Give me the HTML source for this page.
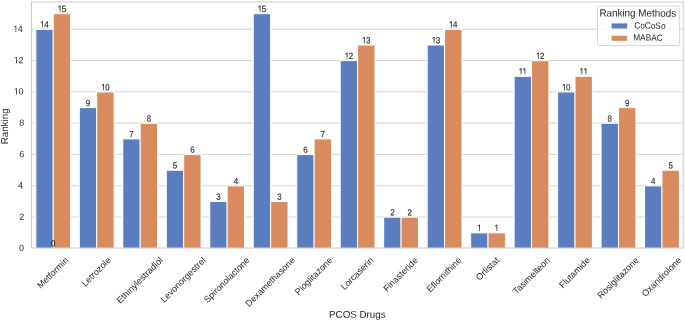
<!DOCTYPE html>
<html><head><meta charset="utf-8"><style>
html,body{margin:0;padding:0;background:#fff;width:685px;height:321px;overflow:hidden}
svg{display:block;will-change:transform}
text{font-family:"Liberation Sans",sans-serif;fill:#262626;text-rendering:geometricPrecision}
</style></head><body>
<svg width="685" height="321" viewBox="0 0 685 321">
<rect width="685" height="321" fill="#fff"/>
<line x1="31.5" x2="683.2" y1="217.04" y2="217.04" stroke="#cccccc" stroke-width="0.8"/>
<line x1="31.5" x2="683.2" y1="185.74" y2="185.74" stroke="#cccccc" stroke-width="0.8"/>
<line x1="31.5" x2="683.2" y1="154.44" y2="154.44" stroke="#cccccc" stroke-width="0.8"/>
<line x1="31.5" x2="683.2" y1="123.13" y2="123.13" stroke="#cccccc" stroke-width="0.8"/>
<line x1="31.5" x2="683.2" y1="91.82" y2="91.82" stroke="#cccccc" stroke-width="0.8"/>
<line x1="31.5" x2="683.2" y1="60.52" y2="60.52" stroke="#cccccc" stroke-width="0.8"/>
<line x1="31.5" x2="683.2" y1="29.22" y2="29.22" stroke="#cccccc" stroke-width="0.8"/>
<rect x="35.85" y="29.37" width="17.39" height="218.98" fill="#597DBF" stroke="#fff" stroke-width="1.0"/>
<rect x="53.24" y="13.71" width="17.39" height="234.64" fill="#D98B5F" stroke="#fff" stroke-width="1.0"/>
<rect x="79.33" y="107.63" width="17.39" height="140.72" fill="#597DBF" stroke="#fff" stroke-width="1.0"/>
<rect x="96.72" y="91.97" width="17.39" height="156.38" fill="#D98B5F" stroke="#fff" stroke-width="1.0"/>
<rect x="122.81" y="138.93" width="17.39" height="109.42" fill="#597DBF" stroke="#fff" stroke-width="1.0"/>
<rect x="140.20" y="123.28" width="17.39" height="125.07" fill="#D98B5F" stroke="#fff" stroke-width="1.0"/>
<rect x="166.29" y="170.24" width="17.39" height="78.11" fill="#597DBF" stroke="#fff" stroke-width="1.0"/>
<rect x="183.68" y="154.59" width="17.39" height="93.76" fill="#D98B5F" stroke="#fff" stroke-width="1.0"/>
<rect x="209.77" y="201.54" width="17.39" height="46.81" fill="#597DBF" stroke="#fff" stroke-width="1.0"/>
<rect x="227.16" y="185.89" width="17.39" height="62.46" fill="#D98B5F" stroke="#fff" stroke-width="1.0"/>
<rect x="253.25" y="13.71" width="17.39" height="234.64" fill="#597DBF" stroke="#fff" stroke-width="1.0"/>
<rect x="270.64" y="201.54" width="17.39" height="46.81" fill="#D98B5F" stroke="#fff" stroke-width="1.0"/>
<rect x="296.73" y="154.59" width="17.39" height="93.76" fill="#597DBF" stroke="#fff" stroke-width="1.0"/>
<rect x="314.12" y="138.93" width="17.39" height="109.42" fill="#D98B5F" stroke="#fff" stroke-width="1.0"/>
<rect x="340.21" y="60.67" width="17.39" height="187.68" fill="#597DBF" stroke="#fff" stroke-width="1.0"/>
<rect x="357.60" y="45.02" width="17.39" height="203.33" fill="#D98B5F" stroke="#fff" stroke-width="1.0"/>
<rect x="383.69" y="217.19" width="17.39" height="31.16" fill="#597DBF" stroke="#fff" stroke-width="1.0"/>
<rect x="401.08" y="217.19" width="17.39" height="31.16" fill="#D98B5F" stroke="#fff" stroke-width="1.0"/>
<rect x="427.17" y="45.02" width="17.39" height="203.33" fill="#597DBF" stroke="#fff" stroke-width="1.0"/>
<rect x="444.56" y="29.37" width="17.39" height="218.98" fill="#D98B5F" stroke="#fff" stroke-width="1.0"/>
<rect x="470.65" y="232.85" width="17.39" height="15.50" fill="#597DBF" stroke="#fff" stroke-width="1.0"/>
<rect x="488.04" y="232.85" width="17.39" height="15.50" fill="#D98B5F" stroke="#fff" stroke-width="1.0"/>
<rect x="514.13" y="76.32" width="17.39" height="172.03" fill="#597DBF" stroke="#fff" stroke-width="1.0"/>
<rect x="531.52" y="60.67" width="17.39" height="187.68" fill="#D98B5F" stroke="#fff" stroke-width="1.0"/>
<rect x="557.61" y="91.97" width="17.39" height="156.38" fill="#597DBF" stroke="#fff" stroke-width="1.0"/>
<rect x="575.00" y="76.32" width="17.39" height="172.03" fill="#D98B5F" stroke="#fff" stroke-width="1.0"/>
<rect x="601.09" y="123.28" width="17.39" height="125.07" fill="#597DBF" stroke="#fff" stroke-width="1.0"/>
<rect x="618.48" y="107.63" width="17.39" height="140.72" fill="#D98B5F" stroke="#fff" stroke-width="1.0"/>
<rect x="644.57" y="185.89" width="17.39" height="62.46" fill="#597DBF" stroke="#fff" stroke-width="1.0"/>
<rect x="661.96" y="170.24" width="17.39" height="78.11" fill="#D98B5F" stroke="#fff" stroke-width="1.0"/>
<rect x="31.5" y="2.0" width="651.70" height="246.00" fill="none" stroke="#cccccc" stroke-width="1.0"/>
<g transform="translate(44.54,27.62) rotate(0.1) scale(0.88,1)"><text x="-4.76 -0.25" y="0" font-size="9.0" style="stroke:#262626;stroke-width:0.15px">14</text><rect x="-4.97" y="-1.60" width="2.43" height="2.20" fill="#fff"/><rect x="-1.65" y="-1.60" width="1.52" height="2.20" fill="#fff"/></g>
<g transform="translate(61.94,11.96) rotate(0.1) scale(0.88,1)"><text x="-4.76 -0.25" y="0" font-size="9.0" style="stroke:#262626;stroke-width:0.15px">15</text><rect x="-4.97" y="-1.60" width="2.43" height="2.20" fill="#fff"/><rect x="-1.65" y="-1.60" width="1.68" height="2.20" fill="#fff"/></g>
<g transform="translate(88.02,105.88) rotate(0.1) scale(0.88,1)"><text x="-2.50" y="0" font-size="9.0" style="stroke:#262626;stroke-width:0.15px">9</text></g>
<g transform="translate(105.42,90.22) rotate(0.1) scale(0.88,1)"><text x="-4.76 -0.25" y="0" font-size="9.0" style="stroke:#262626;stroke-width:0.15px">10</text><rect x="-4.97" y="-1.60" width="2.43" height="2.20" fill="#fff"/><rect x="-1.65" y="-1.60" width="1.67" height="2.20" fill="#fff"/></g>
<g transform="translate(131.50,137.18) rotate(0.1) scale(0.88,1)"><text x="-2.50" y="0" font-size="9.0" style="stroke:#262626;stroke-width:0.15px">7</text></g>
<g transform="translate(148.90,121.53) rotate(0.1) scale(0.88,1)"><text x="-2.50" y="0" font-size="9.0" style="stroke:#262626;stroke-width:0.15px">8</text></g>
<g transform="translate(174.98,168.49) rotate(0.1) scale(0.88,1)"><text x="-2.50" y="0" font-size="9.0" style="stroke:#262626;stroke-width:0.15px">5</text></g>
<g transform="translate(192.38,152.84) rotate(0.1) scale(0.88,1)"><text x="-2.50" y="0" font-size="9.0" style="stroke:#262626;stroke-width:0.15px">6</text></g>
<g transform="translate(218.46,199.79) rotate(0.1) scale(0.88,1)"><text x="-2.50" y="0" font-size="9.0" style="stroke:#262626;stroke-width:0.15px">3</text></g>
<g transform="translate(235.86,184.14) rotate(0.1) scale(0.88,1)"><text x="-2.50" y="0" font-size="9.0" style="stroke:#262626;stroke-width:0.15px">4</text></g>
<g transform="translate(261.94,11.96) rotate(0.1) scale(0.88,1)"><text x="-4.76 -0.25" y="0" font-size="9.0" style="stroke:#262626;stroke-width:0.15px">15</text><rect x="-4.97" y="-1.60" width="2.43" height="2.20" fill="#fff"/><rect x="-1.65" y="-1.60" width="1.68" height="2.20" fill="#fff"/></g>
<g transform="translate(279.34,199.79) rotate(0.1) scale(0.88,1)"><text x="-2.50" y="0" font-size="9.0" style="stroke:#262626;stroke-width:0.15px">3</text></g>
<g transform="translate(305.42,152.84) rotate(0.1) scale(0.88,1)"><text x="-2.50" y="0" font-size="9.0" style="stroke:#262626;stroke-width:0.15px">6</text></g>
<g transform="translate(322.82,137.18) rotate(0.1) scale(0.88,1)"><text x="-2.50" y="0" font-size="9.0" style="stroke:#262626;stroke-width:0.15px">7</text></g>
<g transform="translate(348.90,58.92) rotate(0.1) scale(0.88,1)"><text x="-4.76 -0.25" y="0" font-size="9.0" style="stroke:#262626;stroke-width:0.15px">12</text><rect x="-4.97" y="-1.60" width="2.43" height="2.20" fill="#fff"/><rect x="-1.65" y="-1.60" width="1.77" height="2.20" fill="#fff"/></g>
<g transform="translate(366.30,43.27) rotate(0.1) scale(0.88,1)"><text x="-4.76 -0.25" y="0" font-size="9.0" style="stroke:#262626;stroke-width:0.15px">13</text><rect x="-4.97" y="-1.60" width="2.43" height="2.20" fill="#fff"/><rect x="-1.65" y="-1.60" width="1.66" height="2.20" fill="#fff"/></g>
<g transform="translate(392.38,215.44) rotate(0.1) scale(0.88,1)"><text x="-2.50" y="0" font-size="9.0" style="stroke:#262626;stroke-width:0.15px">2</text></g>
<g transform="translate(409.78,215.44) rotate(0.1) scale(0.88,1)"><text x="-2.50" y="0" font-size="9.0" style="stroke:#262626;stroke-width:0.15px">2</text></g>
<g transform="translate(435.86,43.27) rotate(0.1) scale(0.88,1)"><text x="-4.76 -0.25" y="0" font-size="9.0" style="stroke:#262626;stroke-width:0.15px">13</text><rect x="-4.97" y="-1.60" width="2.43" height="2.20" fill="#fff"/><rect x="-1.65" y="-1.60" width="1.66" height="2.20" fill="#fff"/></g>
<g transform="translate(453.26,27.62) rotate(0.1) scale(0.88,1)"><text x="-4.76 -0.25" y="0" font-size="9.0" style="stroke:#262626;stroke-width:0.15px">14</text><rect x="-4.97" y="-1.60" width="2.43" height="2.20" fill="#fff"/><rect x="-1.65" y="-1.60" width="1.52" height="2.20" fill="#fff"/></g>
<g transform="translate(479.34,231.10) rotate(0.1) scale(0.88,1)"><text x="-2.50" y="0" font-size="9.0" style="stroke:#262626;stroke-width:0.15px">1</text><rect x="-2.72" y="-1.60" width="2.43" height="2.20" fill="#fff"/><rect x="0.61" y="-1.60" width="2.36" height="2.20" fill="#fff"/></g>
<g transform="translate(496.74,231.10) rotate(0.1) scale(0.88,1)"><text x="-2.50" y="0" font-size="9.0" style="stroke:#262626;stroke-width:0.15px">1</text><rect x="-2.72" y="-1.60" width="2.43" height="2.20" fill="#fff"/><rect x="0.61" y="-1.60" width="2.36" height="2.20" fill="#fff"/></g>
<g transform="translate(522.82,74.57) rotate(0.1) scale(0.88,1)"><text x="-4.76 -0.25" y="0" font-size="9.0" style="stroke:#262626;stroke-width:0.15px">11</text><rect x="-4.97" y="-1.60" width="2.43" height="2.20" fill="#fff"/><rect x="-1.65" y="-1.60" width="2.00" height="2.20" fill="#fff"/><rect x="-0.11" y="-1.60" width="2.07" height="2.20" fill="#fff"/><rect x="2.86" y="-1.60" width="2.36" height="2.20" fill="#fff"/></g>
<g transform="translate(540.22,58.92) rotate(0.1) scale(0.88,1)"><text x="-4.76 -0.25" y="0" font-size="9.0" style="stroke:#262626;stroke-width:0.15px">12</text><rect x="-4.97" y="-1.60" width="2.43" height="2.20" fill="#fff"/><rect x="-1.65" y="-1.60" width="1.77" height="2.20" fill="#fff"/></g>
<g transform="translate(566.30,90.22) rotate(0.1) scale(0.88,1)"><text x="-4.76 -0.25" y="0" font-size="9.0" style="stroke:#262626;stroke-width:0.15px">10</text><rect x="-4.97" y="-1.60" width="2.43" height="2.20" fill="#fff"/><rect x="-1.65" y="-1.60" width="1.67" height="2.20" fill="#fff"/></g>
<g transform="translate(583.70,74.57) rotate(0.1) scale(0.88,1)"><text x="-4.76 -0.25" y="0" font-size="9.0" style="stroke:#262626;stroke-width:0.15px">11</text><rect x="-4.97" y="-1.60" width="2.43" height="2.20" fill="#fff"/><rect x="-1.65" y="-1.60" width="2.00" height="2.20" fill="#fff"/><rect x="-0.11" y="-1.60" width="2.07" height="2.20" fill="#fff"/><rect x="2.86" y="-1.60" width="2.36" height="2.20" fill="#fff"/></g>
<g transform="translate(609.78,121.53) rotate(0.1) scale(0.88,1)"><text x="-2.50" y="0" font-size="9.0" style="stroke:#262626;stroke-width:0.15px">8</text></g>
<g transform="translate(627.18,105.88) rotate(0.1) scale(0.88,1)"><text x="-2.50" y="0" font-size="9.0" style="stroke:#262626;stroke-width:0.15px">9</text></g>
<g transform="translate(653.26,184.14) rotate(0.1) scale(0.88,1)"><text x="-2.50" y="0" font-size="9.0" style="stroke:#262626;stroke-width:0.15px">4</text></g>
<g transform="translate(670.66,168.49) rotate(0.1) scale(0.88,1)"><text x="-2.50" y="0" font-size="9.0" style="stroke:#262626;stroke-width:0.15px">5</text></g>
<text transform="translate(53.24,246.40) rotate(0.1) scale(0.88,1)" font-size="9.0" text-anchor="middle" style="fill:#000">0</text>
<g transform="translate(24.10,251.10) rotate(0.1)"><text x="-5.01" y="0" font-size="9.0">0</text></g>
<g transform="translate(24.15,219.79) rotate(0.1)"><text x="-5.01" y="0" font-size="9.0">2</text></g>
<g transform="translate(22.96,188.49) rotate(0.1)"><text x="-5.01" y="0" font-size="9.0">4</text></g>
<g transform="translate(24.15,157.19) rotate(0.1)"><text x="-5.01" y="0" font-size="9.0">6</text></g>
<g transform="translate(24.14,125.88) rotate(0.1)"><text x="-5.01" y="0" font-size="9.0">8</text></g>
<g transform="translate(23.45,94.57) rotate(0.1)"><text x="-9.61 -5.01" y="0" font-size="9.0">10</text><rect x="-9.83" y="-1.60" width="2.43" height="2.20" fill="#fff"/><rect x="-6.50" y="-1.60" width="1.77" height="2.20" fill="#fff"/></g>
<g transform="translate(23.45,63.27) rotate(0.1)"><text x="-9.61 -5.01" y="0" font-size="9.0">12</text><rect x="-9.83" y="-1.60" width="2.43" height="2.20" fill="#fff"/><rect x="-6.50" y="-1.60" width="1.87" height="2.20" fill="#fff"/></g>
<g transform="translate(22.76,31.97) rotate(0.1)"><text x="-9.61 -5.01" y="0" font-size="9.0">14</text><rect x="-9.83" y="-1.60" width="2.43" height="2.20" fill="#fff"/><rect x="-6.50" y="-1.60" width="1.62" height="2.20" fill="#fff"/></g>
<text transform="translate(69.03,260.81) rotate(-45)" font-size="9.0" text-anchor="end">Metformin</text>
<text transform="translate(111.46,260.81) rotate(-45)" font-size="9.0" text-anchor="end">Letrozole</text>
<text transform="translate(163.42,260.81) rotate(-45)" font-size="9.0" text-anchor="end">Ethinylestradiol</text>
<text transform="translate(206.37,260.81) rotate(-45)" font-size="9.0" text-anchor="end">Levonorgestrel</text>
<text transform="translate(250.03,260.81) rotate(-45)" font-size="9.0" text-anchor="end">Spironolactone</text>
<text transform="translate(295.46,260.81) rotate(-45)" font-size="9.0" text-anchor="end">Dexamethasone</text>
<text transform="translate(333.10,260.81) rotate(-45)" font-size="9.0" text-anchor="end">Pioglitazone</text>
<text transform="translate(374.10,260.81) rotate(-45)" font-size="9.0" text-anchor="end">Lorcaserin</text>
<text transform="translate(418.47,260.81) rotate(-45)" font-size="9.0" text-anchor="end">Finasteride</text>
<text transform="translate(462.12,260.81) rotate(-45)" font-size="9.0" text-anchor="end">Eflornithine</text>
<text transform="translate(499.76,260.81) rotate(-45)" font-size="9.0" text-anchor="end">Orlistat</text>
<text transform="translate(550.50,260.81) rotate(-45)" font-size="9.0" text-anchor="end">Tasimelteon</text>
<text transform="translate(590.62,260.81) rotate(-45)" font-size="9.0" text-anchor="end">Flutamide</text>
<text transform="translate(639.23,260.81) rotate(-45)" font-size="9.0" text-anchor="end">Rosiglitazone</text>
<text transform="translate(681.83,260.81) rotate(-45)" font-size="9.0" text-anchor="end">Oxandrolone</text>
<text transform="translate(357.35,317.8) rotate(0.1)" font-size="9.8" text-anchor="middle">PCOS Drugs</text>
<text transform="translate(8.4,126.4) rotate(-90)" font-size="9.8" text-anchor="middle">Ranking</text>
<rect x="597.5" y="6.2" width="82.10" height="39.30" rx="1" fill="#fff" fill-opacity="0.8" stroke="#cccccc" stroke-width="0.8"/>
<text transform="translate(637.8,16.6) rotate(0.1) scale(0.95,1)" font-size="10.4" text-anchor="middle">Ranking Methods</text>
<rect x="611.6" y="23.4" width="15.6" height="5.1" fill="#597DBF"/>
<rect x="611.6" y="35.7" width="15.6" height="5.1" fill="#D98B5F"/>
<text transform="translate(634.19,28.6) rotate(0.1) scale(0.92,1)" font-size="9.0">CoCoSo</text>
<text transform="translate(633.22,40.6) rotate(0.1) scale(0.92,1)" font-size="9.0">MABAC</text>
</svg>
</body></html>
